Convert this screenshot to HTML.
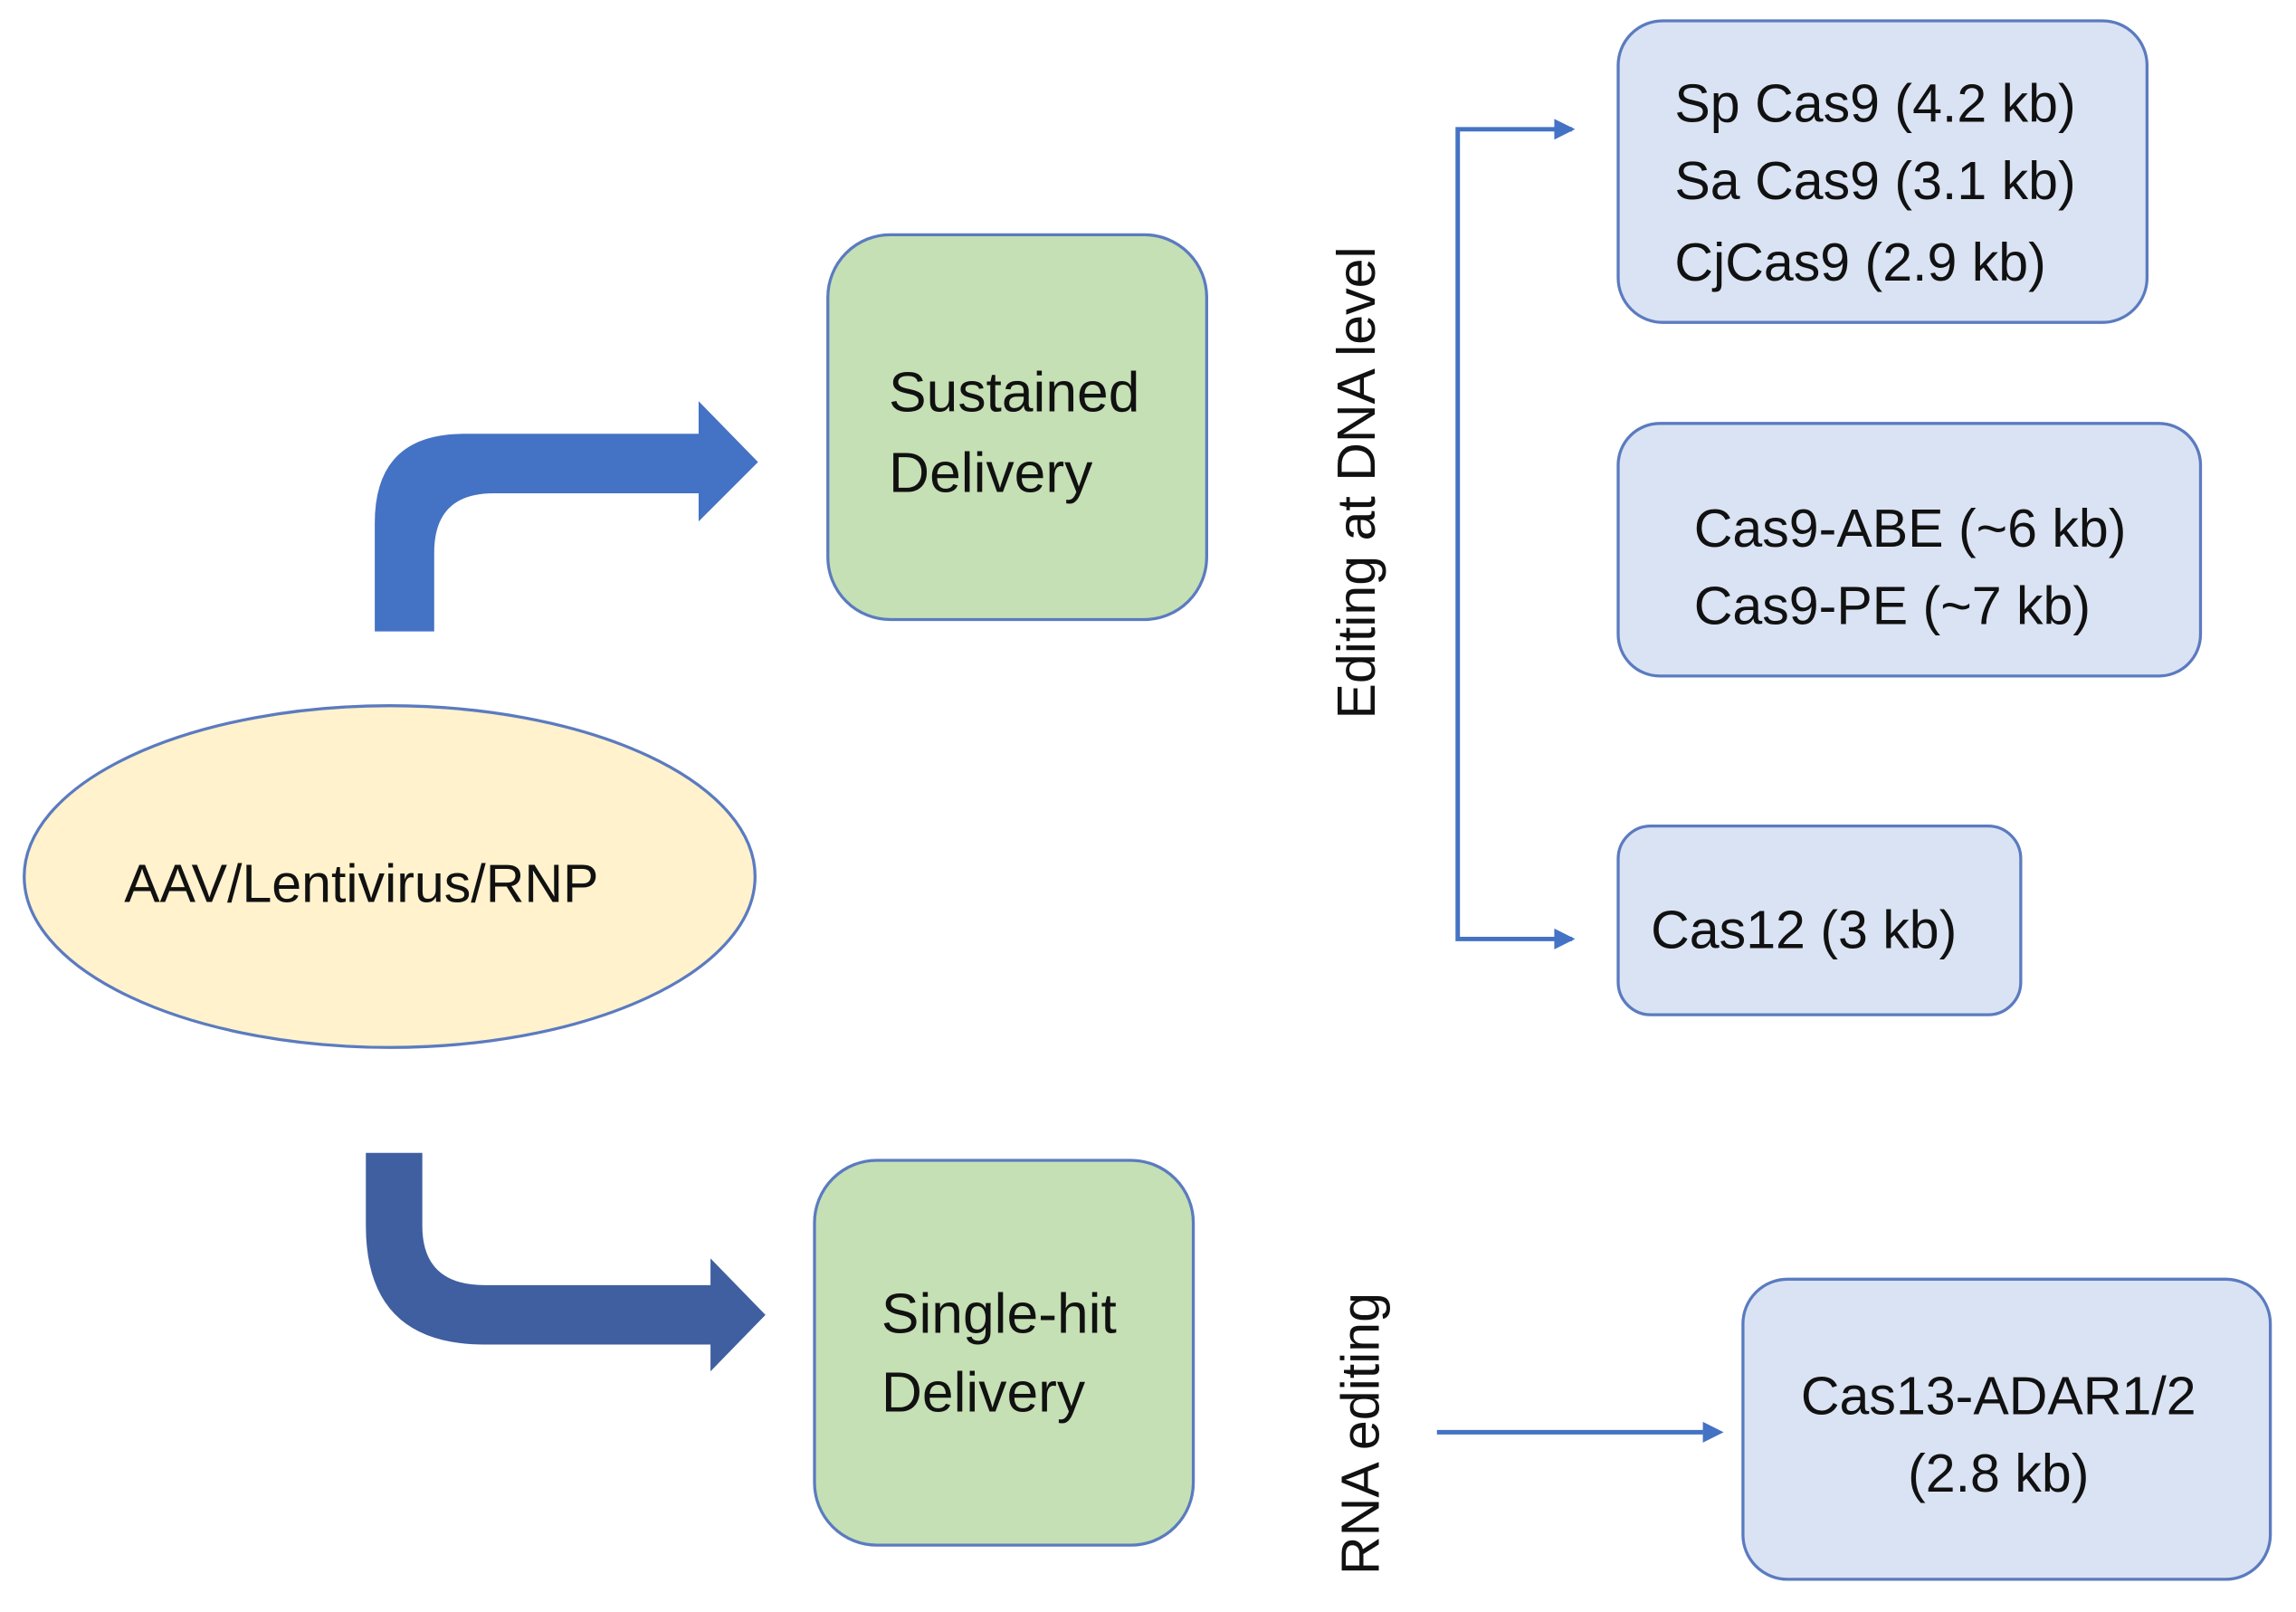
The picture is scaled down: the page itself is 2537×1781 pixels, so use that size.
<!DOCTYPE html>
<html><head><meta charset="utf-8"><style>html,body{margin:0;padding:0;background:#fff}svg{display:block}</style></head>
<body>
<svg width="2537" height="1781" viewBox="0 0 1545 1085" xmlns="http://www.w3.org/2000/svg" font-family="'Liberation Sans', sans-serif" fill="#111">
<defs>
<marker id="ah" markerWidth="8" markerHeight="8" refX="7" refY="4" orient="auto" markerUnits="userSpaceOnUse"><path d="M0,0 L8,4 L0,8 z" fill="#4472c4"/></marker>
<marker id="ah2" markerWidth="14" markerHeight="12" refX="13" refY="6" orient="auto" markerUnits="userSpaceOnUse"><path d="M0,0 L14,6 L0,12 z" fill="#4472c4"/></marker>
</defs>
<ellipse cx="262" cy="590" rx="246" ry="115" fill="#fff2cc" stroke="#5b7bc0" stroke-width="2"/>
<text x="243" y="607" font-size="36" text-anchor="middle">AAV/Lentivirus/RNP</text>

<rect x="557" y="158" width="255" height="259" rx="42" fill="#c5e0b4" stroke="#5b7bc0" stroke-width="2"/>
<text x="598" y="277" font-size="38">Sustained</text>
<text x="598" y="331" font-size="38">Delivery</text>

<rect x="548" y="781" width="255" height="259" rx="42" fill="#c5e0b4" stroke="#5b7bc0" stroke-width="2"/>
<text x="593" y="897" font-size="38">Single-hit</text>
<text x="593" y="950" font-size="38">Delivery</text>

<path d="M252,425 L252,352 Q252,292 312,292 L470,292 L470,270 L510,311 L470,351 L470,332 L332,332 Q292,332 292,372 L292,425 Z" fill="#4472c4"/>
<path d="M246,776 L246,825 Q246,905 326,905 L478,905 L478,923 L515,885 L478,847 L478,865 L326,865 Q284,865 284,825 L284,776 Z" fill="#3f5fa0"/>

<text transform="translate(925,325) rotate(-90)" font-size="36" text-anchor="middle">Editing at DNA level</text>
<text transform="translate(928,965) rotate(-90)" font-size="36" text-anchor="middle">RNA editing</text>

<path d="M1058,87 L981,87 L981,632 L1058,632" fill="none" stroke="#4472c4" stroke-width="3"/>
<path d="M1046,80 L1060,87 L1046,94 z M1046,625 L1060,632 L1046,639 z" fill="#4472c4"/>
<line x1="967" y1="964" x2="1146" y2="964" stroke="#4472c4" stroke-width="3"/>
<path d="M1146,957 L1160,964 L1146,971 z" fill="#4472c4"/>

<rect x="1089" y="14" width="356" height="203" rx="30" fill="#dae3f3" stroke="#5b7bc0" stroke-width="2"/>
<text x="1127" y="82" font-size="36">Sp Cas9 (4.2 kb)</text>
<text x="1127" y="134" font-size="36">Sa Cas9 (3.1 kb)</text>
<text x="1127" y="189" font-size="36">CjCas9 (2.9 kb)</text>

<rect x="1089" y="285" width="392" height="170" rx="28" fill="#dae3f3" stroke="#5b7bc0" stroke-width="2"/>
<text x="1140" y="368" font-size="36">Cas9-ABE (~6 kb)</text>
<text x="1140" y="420" font-size="36">Cas9-PE (~7 kb)</text>

<rect x="1089" y="556" width="271" height="127" rx="22" fill="#dae3f3" stroke="#5b7bc0" stroke-width="2"/>
<text x="1111" y="638" font-size="36">Cas12 (3 kb)</text>

<rect x="1173" y="861" width="355" height="202" rx="30" fill="#dae3f3" stroke="#5b7bc0" stroke-width="2"/>
<text x="1345" y="952" font-size="36" text-anchor="middle">Cas13-ADAR1/2</text>
<text x="1345" y="1004" font-size="36" text-anchor="middle">(2.8 kb)</text>
</svg>
</body></html>
